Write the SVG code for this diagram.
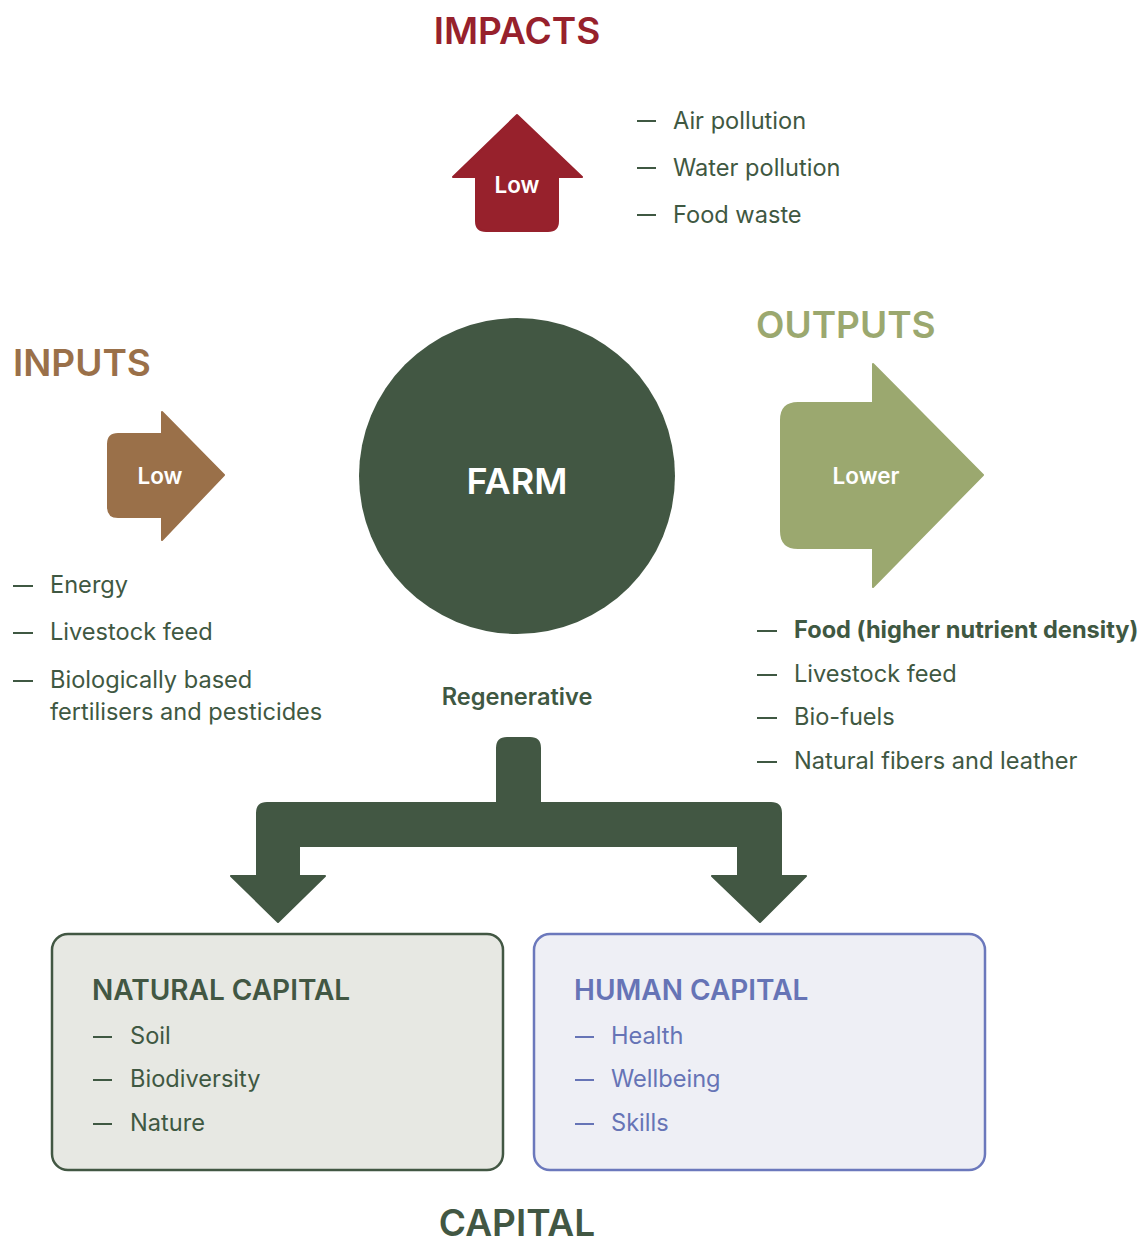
<svg xmlns="http://www.w3.org/2000/svg" width="1148" height="1247" viewBox="0 0 1148 1247">
<style>
text{font-family:Inter,"Liberation Sans",sans-serif}
.h{font-size:37px;font-weight:600}
.t{font-size:23.6px;fill:#3F5842}
.d{stroke:#3F5842;stroke-width:2}
.w{fill:#fff;font-size:22.5px;font-weight:600}
.sub{font-size:28px;font-weight:600}
.b{fill:#6674B6}
</style>
<rect width="1148" height="1247" fill="#fff"/>
<g id="impacts">
<text class="h" x="517" y="44" text-anchor="middle" fill="#97212C">IMPACTS</text>
<path d="M517,115 L582,177 L558,177 L558,221 Q558,231 548,231 L486,231 Q476,231 476,221 L476,177 L453,177 Z" fill="#97212C" stroke="#97212C" stroke-width="2" stroke-linejoin="round"/>
<text class="w" x="517" y="193" text-anchor="middle">Low</text>
<line class="d" x1="637" y1="121" x2="656" y2="121"/>
<text class="t" x="673" y="129">Air pollution</text>
<line class="d" x1="637" y1="168" x2="656" y2="168"/>
<text class="t" x="673" y="176">Water pollution</text>
<line class="d" x1="637" y1="215" x2="656" y2="215"/>
<text class="t" x="673" y="223">Food waste</text>
</g>
<g id="inputs">
<text class="h" x="13" y="376" fill="#9A7049">INPUTS</text>
<path d="M108,444 Q108,434 118,434 L162,434 L162,412 L224,475 L162,540 L162,517 L118,517 Q108,517 108,507 Z" fill="#9A7049" stroke="#9A7049" stroke-width="2" stroke-linejoin="round"/>
<text class="w" x="160" y="484" text-anchor="middle">Low</text>
<line class="d" x1="13" y1="586" x2="33" y2="586"/>
<text class="t" x="50" y="593">Energy</text>
<line class="d" x1="13" y1="633" x2="33" y2="633"/>
<text class="t" x="50" y="640">Livestock feed</text>
<line class="d" x1="13" y1="681" x2="33" y2="681"/>
<text class="t" x="50" y="688">Biologically based</text>
<text class="t" x="50" y="720">fertilisers and pesticides</text>
</g>
<g id="farm">
<circle cx="517" cy="476" r="158" fill="#425743"/>
<text x="517" y="494" text-anchor="middle" fill="#fff" font-size="36" font-weight="600">FARM</text>
<text class="t" x="517" y="705" text-anchor="middle" font-weight="600">Regenerative</text>
</g>
<g id="outputs">
<text class="h" x="756" y="338" fill="#9BA86F">OUTPUTS</text>
<path d="M781,420 Q781,403 798,403 L873,403 L873,364 L983,475 L873,587 L873,548 L798,548 Q781,548 781,531 Z" fill="#9BA86F" stroke="#9BA86F" stroke-width="2" stroke-linejoin="round"/>
<text class="w" x="866" y="484" text-anchor="middle">Lower</text>
<line class="d" x1="757" y1="631" x2="777" y2="631"/>
<text class="t" x="794" y="638" font-weight="700">Food (higher nutrient density)</text>
<line class="d" x1="757" y1="675" x2="777" y2="675"/>
<text class="t" x="794" y="682">Livestock feed</text>
<line class="d" x1="757" y1="718" x2="777" y2="718"/>
<text class="t" x="794" y="725">Bio-fuels</text>
<line class="d" x1="757" y1="762" x2="777" y2="762"/>
<text class="t" x="794" y="769">Natural fibers and leather</text>
</g>
<g id="connectors">
<path d="M497,748 Q497,738 507,738 L530,738 Q540,738 540,748 L540,803 L771,803 Q781,803 781,813 L781,876 L806,876 L760,922 L712,876 L738,876 L738,846 L299,846 L299,876 L325,876 L278,922 L231,876 L257,876 L257,813 Q257,803 267,803 L497,803 Z" fill="#425743" stroke="#425743" stroke-width="2" stroke-linejoin="round"/>
</g>
<g id="natural-capital">
<rect x="52" y="934" width="451" height="236" rx="16" fill="#E7E8E3" stroke="#425743" stroke-width="2.5"/>
<text class="sub" x="92" y="1000" fill="#425743">NATURAL CAPITAL</text>
<line class="d" x1="93" y1="1037" x2="112" y2="1037"/>
<text class="t" x="130" y="1044">Soil</text>
<line class="d" x1="93" y1="1080" x2="112" y2="1080"/>
<text class="t" x="130" y="1087">Biodiversity</text>
<line class="d" x1="93" y1="1124" x2="112" y2="1124"/>
<text class="t" x="130" y="1131">Nature</text>
</g>
<g id="human-capital">
<rect x="534" y="934" width="451" height="236" rx="16" fill="#EEEFF5" stroke="#6B78BC" stroke-width="2.5"/>
<text class="sub" x="574" y="1000" fill="#6674B6">HUMAN CAPITAL</text>
<line x1="575" y1="1037" x2="594" y2="1037" stroke="#6674B6" stroke-width="2"/>
<text class="t b" x="611" y="1044">Health</text>
<line x1="575" y1="1080" x2="594" y2="1080" stroke="#6674B6" stroke-width="2"/>
<text class="t b" x="611" y="1087">Wellbeing</text>
<line x1="575" y1="1124" x2="594" y2="1124" stroke="#6674B6" stroke-width="2"/>
<text class="t b" x="611" y="1131">Skills</text>
</g>
<g id="capital">
<text class="h" x="517" y="1236" text-anchor="middle" fill="#425743">CAPITAL</text>
</g>
</svg>
